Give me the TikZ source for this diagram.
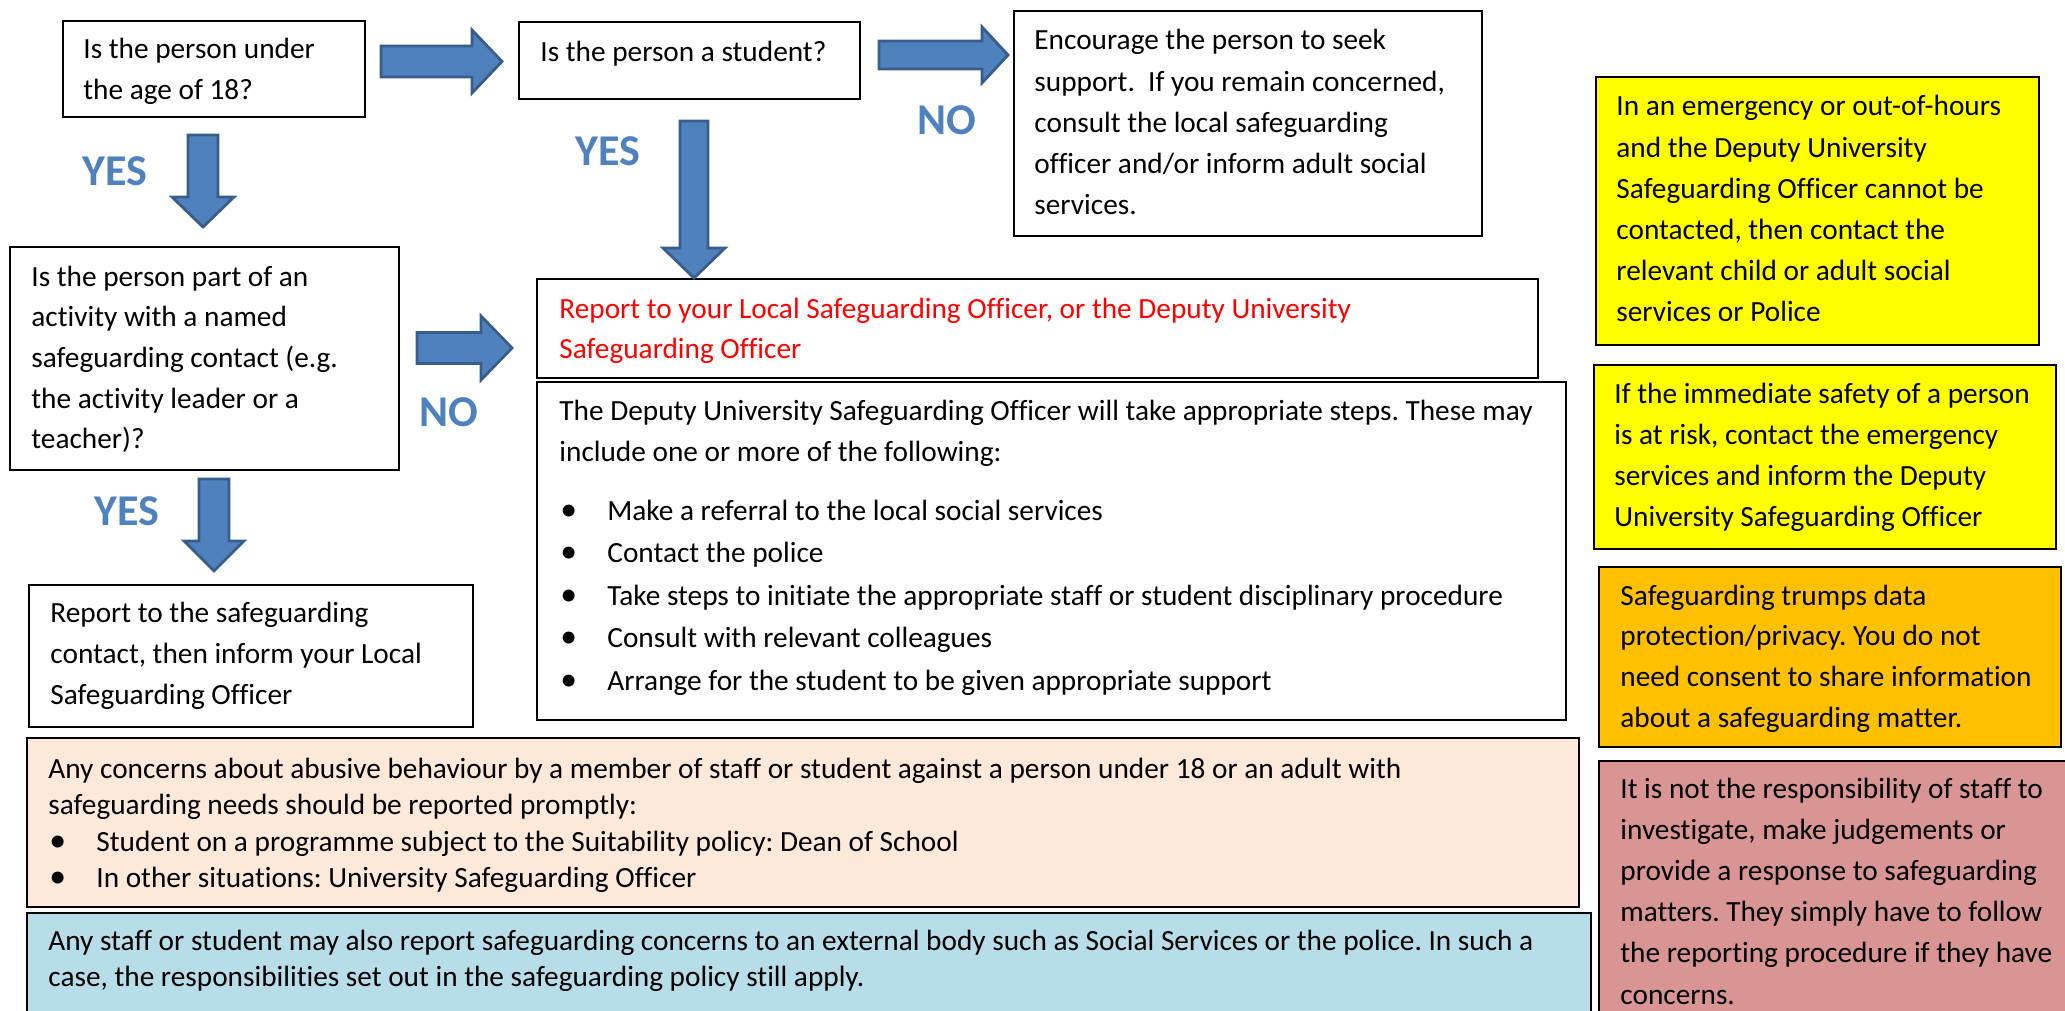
\documentclass[tikz,border=0pt]{standalone}
\usepackage{fontspec}
\setmainfont[Ligatures=NoCommon]{Carlito}
\frenchspacing
\usetikzlibrary{fit}
\definecolor{arrfill}{HTML}{4F81BD}
\definecolor{arrdraw}{HTML}{385D8A}
\definecolor{lblblue}{HTML}{4F81BD}
\definecolor{peach}{HTML}{FDE9D9}
\definecolor{lblue}{HTML}{B7DDE8}
\definecolor{pinkish}{HTML}{D99594}
\definecolor{orangey}{HTML}{FFC000}
\definecolor{yell}{HTML}{FFFF00}
\newcommand{\bl}{\makebox[24pt][l]{\hspace{0.5pt}\scalebox{1.15}{•}}}
\newcommand{\rarr}[6]{\filldraw[barrow] (#1,#4-#5) -- (#2,#4-#5) -- (#2,#4-#6) -- (#3,#4) -- (#2,#4+#6) -- (#2,#4+#5) -- (#1,#4+#5) -- cycle;}
\newcommand{\darr}[6]{\filldraw[barrow] (#1-#5,#2) -- (#1-#5,#3) -- (#1-#6,#3) -- (#1,#4) -- (#1+#6,#3) -- (#1+#5,#3) -- (#1+#5,#2) -- cycle;}
\begin{document}
\begin{tikzpicture}[x=0.5pt,y=-0.5pt,
  box/.style={draw=black, line width=0.8pt, inner sep=0pt},
  txt/.style={anchor=base west, inner sep=0pt, font=\fontsize{14.65pt}{20.35pt}\selectfont},
  txtb/.style={anchor=base west, inner sep=0pt, font=\fontsize{14.65pt}{20.6pt}\selectfont},
  txtc/.style={anchor=base west, inner sep=0pt, font=\fontsize{14.65pt}{18.3pt}\selectfont},
  lbl/.style={inner sep=0pt, text=lblblue, font=\fontsize{22pt}{26pt}\selectfont\bfseries},
  barrow/.style={fill=arrfill, draw=arrdraw, line width=1.4pt, line join=miter}]
\useasboundingbox (0,0) rectangle (2065,1011);

% boxes
\node[box, fit={(63,21) (365,117)}] (b1) {};
\node[box, fit={(519,22) (860,99)}] (b2) {};
\node[box, fit={(1014,11) (1482,236)}] (b3) {};
\node[box, fit={(10,247) (399,470)}] (b4) {};
\node[box, fit={(537,279) (1538,378)}] (red) {};
\node[box, fit={(537,382) (1566,720)}] (b5) {};
\node[box, fit={(29,585) (473,727)}] (b6) {};
\node[box, fill=peach, fit={(27,738) (1579,907)}] (pe) {};
\node[box, fill=lblue, fit={(27,913) (1591,1030)}] (bl) {};
\node[box, fill=yell, fit={(1596,77) (2039,345)}] (y1) {};
\node[box, fill=yell, fit={(1594,365) (2056,549)}] (y2) {};
\node[box, fill=orangey, fit={(1599,567) (2061,747)}] (or) {};
\node[box, fill=pinkish, fit={(1599,761) (2080,1030)}] (pk) {};

% texts
\node[txt] (t1) at (83,59) {\parbox[t]{300pt}{Is the person under\\the age of 18?}};
\node[txt] (t2) at (540,62) {\parbox[t]{300pt}{Is the person a student?}};
\node[txtb] (t3) at (1034,50) {\parbox[t]{300pt}{Encourage the person to seek\\support.~ If you remain concerned,\\consult the local safeguarding\\officer and/or inform adult social\\services.}};
\node[txt] (t4) at (31,286) {\parbox[t]{300pt}{Is the person part of an\\activity with a named\\safeguarding contact (e.g.\\the activity leader or a\\teacher)?}};
\node[txt, text=red] (tr) at (559,318) {\parbox[t]{600pt}{Report to your Local Safeguarding Officer, or the Deputy University\\Safeguarding Officer}};
\node[txtb] (t5) at (559,420) {\parbox[t]{600pt}{The Deputy University Safeguarding Officer will take appropriate steps. These may\\include one or more of the following:\\[9pt]
\bl Make a referral to the local social services\\[0.6pt]
\bl Contact the police\\[0.6pt]
\bl Take steps to initiate the appropriate staff or student disciplinary procedure\\[0.6pt]
\bl Consult with relevant colleagues\\[0.6pt]
\bl Arrange for the student to be given appropriate support}};
\node[txtb] (t6) at (50,622) {\parbox[t]{300pt}{Report to the safeguarding\\contact, then inform your Local\\Safeguarding Officer}};
\node[txtc] (tp) at (48,778) {\parbox[t]{800pt}{Any concerns about abusive behaviour by a member of staff or student against a person under 18 or an adult with\\safeguarding needs should be reported promptly:\\
\bl Student on a programme subject to the Suitability policy: Dean of School\\
\bl In other situations: University Safeguarding Officer}};
\node[txtc] (tb) at (48,950) {\parbox[t]{800pt}{Any staff or student may also report safeguarding concerns to an external body such as Social Services or the police. In such a\\case, the responsibilities set out in the safeguarding policy still apply.}};
\node[txtb] (ty1) at (1616,116) {\parbox[t]{300pt}{In an emergency or out-of-hours\\and the Deputy University\\Safeguarding Officer cannot be\\contacted, then contact the\\relevant child or adult social\\services or Police}};
\node[txtb] (ty2) at (1614,403) {\parbox[t]{300pt}{If the immediate safety of a person\\is at risk, contact the emergency\\services and inform the Deputy\\University Safeguarding Officer}};
\node[txt] (to) at (1620,605) {\parbox[t]{300pt}{Safeguarding trumps data\\protection/privacy. You do not\\need consent to share information\\about a safeguarding matter.}};
\node[txtb] (tk) at (1620,798) {\parbox[t]{300pt}{It is not the responsibility of staff to\\investigate, make judgements or\\provide a response to safeguarding\\matters. They simply have to follow\\the reporting procedure if they have\\concerns.}};

% labels
\node[lbl] (yes1) at (115,171) {YES};
\node[lbl] (yes2) at (608,151) {YES};
\node[lbl] (yes3) at (127,511) {YES};
\node[lbl] (no1) at (947,120) {NO};
\node[lbl] (no2) at (449,412) {NO};

% block arrows
\rarr{381}{472}{502}{61.5}{15.5}{31.5}
\rarr{879}{982}{1008}{55}{14}{28}
\rarr{417}{481}{512}{348}{15.5}{32}
\darr{203}{135}{197}{227}{15}{31}
\darr{694}{121}{248}{278}{14}{31}
\darr{214}{479}{541}{571}{15}{30}
\end{tikzpicture}
\end{document}
